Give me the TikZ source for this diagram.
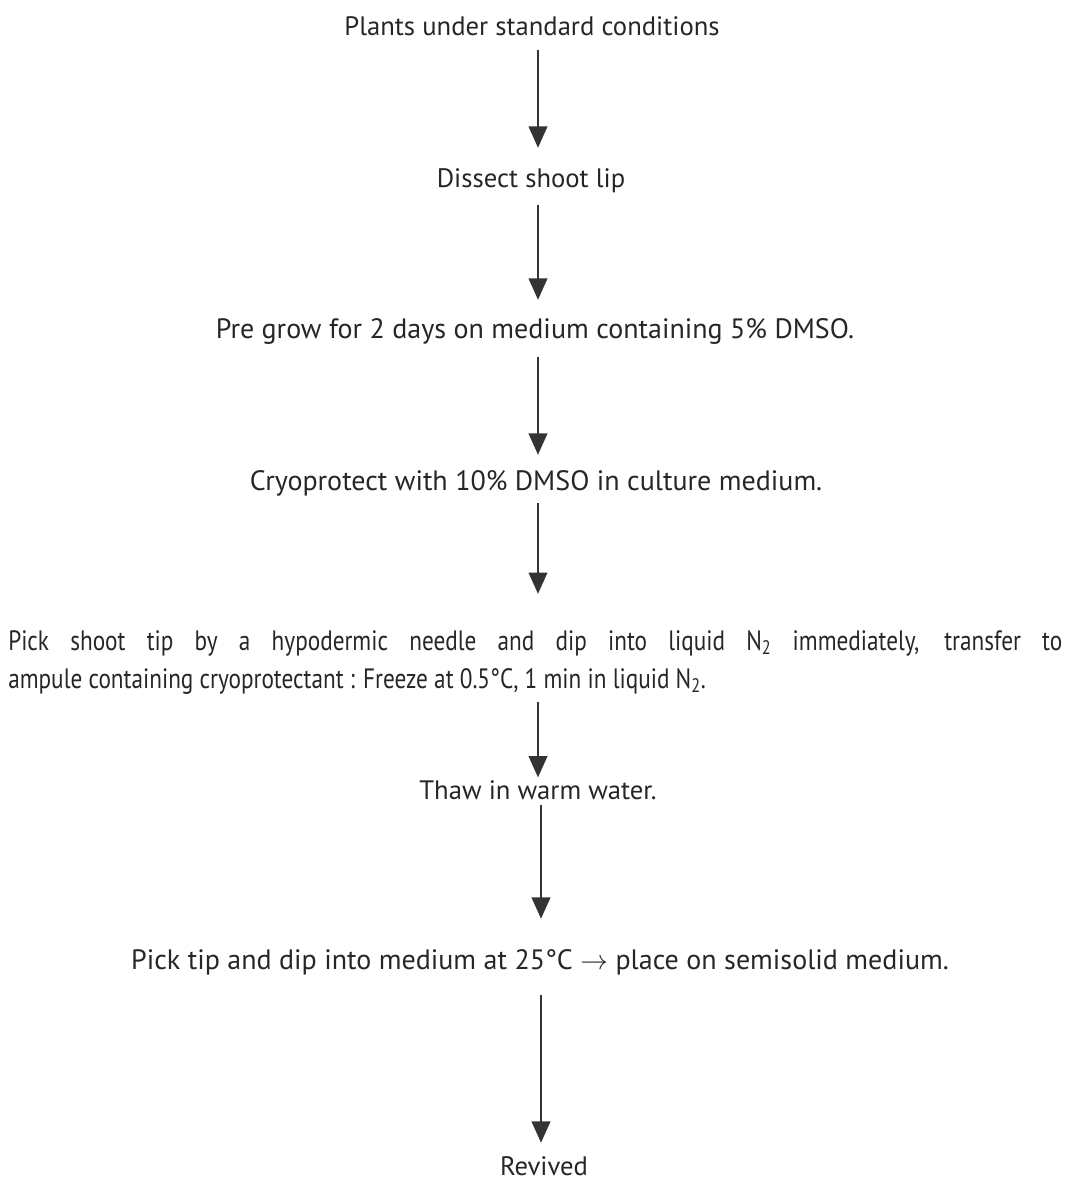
\documentclass[tikz,border=0pt]{standalone}
\usepackage{fontspec}
\setmainfont{PT Sans}
\newfontfamily\narrowfont[FakeStretch=0.83]{PT Sans}
\usetikzlibrary{arrows.meta}
\begin{document}
\begin{tikzpicture}[x=0.75pt,y=-0.75pt,
  stage/.style={anchor=base, inner sep=0pt, text height=15pt, text depth=4.5pt,
    font=\fontsize{20}{28.5}\selectfont, text=black!85},
  wide/.style={font=\fontsize{21}{28.5}\selectfont},
  para/.style={anchor=base west, inner sep=0pt, text width=790.5pt, align=justify,
    font=\narrowfont\fontsize{21}{28.5}\selectfont, text=black!85},
  flow/.style={draw=black!80, line width=1.4pt, -{Triangle[length=16pt,width=14pt]}}]
\useasboundingbox (0,0) rectangle (1067,1182);
\coordinate (col) at (538,0);
\coordinate (col2) at (541,0);

\node[stage] (t1) at (532,35)  {Plants under standard conditions};
\node[stage] (t2) at (531,187) {Dissect shoot lip};
\node[stage, wide] (t3) at (535,338) {Pre grow for 2 days on medium containing 5\% DMSO.};
\node[stage, wide] (t4) at (536,490) {Cryoprotect with 10\% DMSO in culture medium.};
\node[para]  (t5) at (8,650) {Pick shoot tip by a hypodermic needle and dip into liquid N\textsubscript{2} immediately, transfer to\linebreak
  ampule containing cryoprotectant : Freeze at 0.5°C, 1 min in liquid N\textsubscript{2}.};
\node[stage] (t6) at (538,799) {Thaw in warm water.};
\node[stage, wide] (t7) at (540,969) {Pick tip and dip into medium at 25°C $\rightarrow$ place on semisolid medium.};
\node[stage] (t8) at (544,1175) {Revived};

\draw[flow, shorten <=6.75pt, shorten >=14.25pt] (t1.south -| col) -- (t2.north -| col);
\draw[flow, shorten <=9pt, shorten >=13.5pt] (t2.south -| col) -- (t3.north -| col);
\draw[flow, shorten <=9.75pt, shorten >=11.25pt] (t3.south -| col) -- (t4.north -| col);
\draw[flow, shorten <=5.25pt, shorten >=27pt] (t4.south -| col) -- (t5.north -| col);
\draw[flow, shorten <=6pt, shorten >=1pt] (t5.south -| col) -- (t6.north -| col);
\draw[flow, shorten <=0pt, shorten >=22.5pt] (t6.south -| col2) -- (t7.north -| col2);
\draw[flow, shorten <=15pt, shorten >=9pt] (t7.south -| col2) -- (t8.north -| col2);
\end{tikzpicture}
\end{document}
